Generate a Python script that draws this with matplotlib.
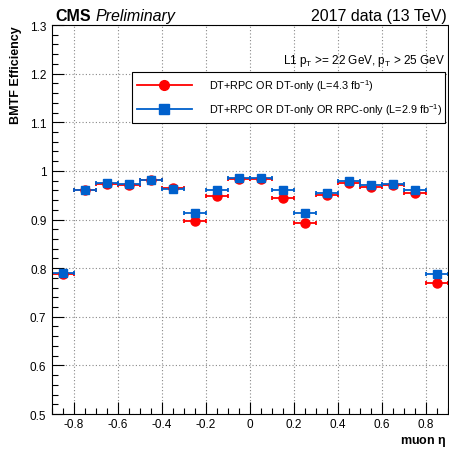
import matplotlib
matplotlib.use('Agg')
import matplotlib.pyplot as plt
from matplotlib.lines import Line2D
from matplotlib.ticker import MultipleLocator, FormatStrFormatter

plt.rcParams['font.family'] = ['Liberation Sans', 'DejaVu Sans']
plt.rcParams['axes.unicode_minus'] = False
plt.rcParams['mathtext.fontset'] = 'custom'
plt.rcParams['mathtext.rm'] = 'Liberation Sans'

# eta bins (centres) and half width
eta = [-0.85, -0.75, -0.65, -0.55, -0.45, -0.35, -0.25, -0.15, -0.05,
       0.05, 0.15, 0.25, 0.35, 0.45, 0.55, 0.65, 0.75, 0.85]
eta_err = 0.05

# DT+RPC OR DT-only
eff_dt = [0.788, 0.960, 0.972, 0.970, 0.981, 0.964, 0.896, 0.949, 0.984,
          0.984, 0.945, 0.892, 0.951, 0.976, 0.967, 0.970, 0.955, 0.769]
# DT+RPC OR DT-only OR RPC-only
eff_rpc = [0.790, 0.961, 0.975, 0.972, 0.982, 0.963, 0.913, 0.961, 0.985,
           0.985, 0.961, 0.913, 0.955, 0.979, 0.970, 0.974, 0.961, 0.787]

labels = [r'DT+RPC OR DT-only (L=4.3 fb$^{-1}$)',
          r'DT+RPC OR DT-only OR RPC-only (L=2.9 fb$^{-1}$)']

red = '#ff0000'
blue = '#0060cc'

fig = plt.figure(figsize=(4.49, 4.52), dpi=100)
ax = fig.add_axes([52 / 449, 1 - 415 / 452, 396 / 449, 389 / 452])

ax.errorbar(eta, eff_dt, xerr=eta_err, fmt='o', color=red, ms=6.5,
            lw=1.3, capsize=1.5, capthick=1.3)
ax.errorbar(eta, eff_rpc, xerr=eta_err, fmt='s', color=blue, ms=6,
            lw=1.3, capsize=1.5, capthick=1.3)

ax.set_xlim(-0.9, 0.9)
ax.set_ylim(0.5, 1.3)
ax.xaxis.set_major_locator(MultipleLocator(0.2))
ax.xaxis.set_minor_locator(MultipleLocator(0.05))
ax.yaxis.set_major_locator(MultipleLocator(0.1))
ax.yaxis.set_minor_locator(MultipleLocator(0.02))
ax.xaxis.set_major_formatter(FormatStrFormatter('%g'))
ax.yaxis.set_major_formatter(FormatStrFormatter('%g'))
ax.tick_params(which='both', direction='in', labelsize=8.5, width=0.8,
               top=False, right=False)
ax.tick_params(which='major', length=8.5, pad=4)
ax.tick_params(axis='x', which='major', pad=3)
ax.tick_params(which='minor', length=4.3)
ax.grid(True, which='major', color='#888888', linestyle=(0, (1, 2)), lw=0.8)
for s in ax.spines.values():
    s.set_linewidth(0.8)

ax.set_ylabel('BMTF Efficiency', fontsize=9, fontweight='bold', loc='top',
              labelpad=6)
fig.text(446 / 449, 1 - 444 / 452, r'muon $\mathregular{\eta}$', fontsize=9,
         fontweight='bold', ha='right', va='baseline')

ax.text(0.992, 0.91, r'L1 $\mathregular{p_{T}}$ >= 22 GeV, $\mathregular{p_{T}}$ > 25 GeV',
        transform=ax.transAxes, ha='right', va='center', fontsize=8.5)

handles = [Line2D([], [], color=red, marker='o', ms=7, lw=1.3),
           Line2D([], [], color=blue, marker='s', ms=6.5, lw=1.3)]
leg = ax.legend(handles, labels, loc='upper left',
                bbox_to_anchor=(0.202, 0.753, 0.79, 0.126),
                mode='expand', fontsize=7.8, frameon=True, fancybox=False,
                edgecolor='black', framealpha=1, handlelength=5,
                handletextpad=1.6, borderpad=0.5, labelspacing=0.75,
                borderaxespad=0)
leg.get_frame().set_linewidth(0.8)

fig.text(55 / 449, 1 - 21 / 452, 'CMS', fontsize=11.5, fontweight='bold',
         ha='left', va='baseline')
fig.text(96 / 449, 1 - 21 / 452, 'Preliminary', fontsize=11.5,
         style='italic', ha='left', va='baseline')
fig.text(447 / 449, 1 - 21 / 452, '2017 data (13 TeV)', fontsize=11.5,
         ha='right', va='baseline')

fig.savefig('out.png', dpi=100)
